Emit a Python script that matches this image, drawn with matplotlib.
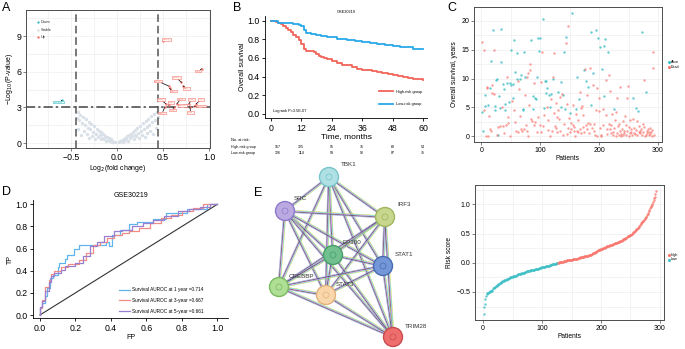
import matplotlib
matplotlib.use('Agg')
import matplotlib.pyplot as plt
import numpy as np
from matplotlib.patches import Circle

plt.rcParams['font.family'] = ['Liberation Sans', 'DejaVu Sans']

W, H = 685, 349
TEAL = '#3FBFC6'
SALMON = '#F8766D'

# ---------------- A: volcano ----------------
gray_x = [-0.02, -0.04, -0.05, -0.06, -0.07, -0.08, -0.09, -0.10, -0.11, -0.12, -0.13, -0.14,
          -0.15, -0.16, -0.17, -0.18, -0.19, -0.20, -0.21, -0.22, -0.23, -0.24, -0.25, -0.26,
          -0.27, -0.28, -0.29, -0.30, -0.31, -0.32, -0.33, -0.34, -0.35, -0.36, -0.37, -0.38,
          -0.39, -0.40, -0.41, -0.42, -0.43, -0.44,
          0.02, 0.03, 0.05, 0.06, 0.07, 0.08, 0.09, 0.10, 0.11, 0.12, 0.13, 0.14, 0.15, 0.16,
          0.17, 0.18, 0.19, 0.20, 0.21, 0.22, 0.23, 0.24, 0.25, 0.26, 0.27, 0.28, 0.29, 0.30,
          0.31, 0.32, 0.33, 0.34, 0.35, 0.36, 0.37, 0.38, 0.39, 0.40, 0.41, 0.42, 0.43, 0.44]
gray_y = [0.05, 0.12, 0.20, 0.10, 0.30, 0.18, 0.40, 0.25, 0.50, 0.15, 0.60, 0.35,
          0.75, 0.45, 0.90, 0.30, 0.65, 1.00, 0.50, 1.20, 0.80, 0.35, 1.40, 0.95,
          0.60, 1.60, 1.15, 0.45, 1.80, 1.30, 0.80, 2.00, 1.50, 1.00, 2.20, 1.70,
          0.70, 2.40, 1.90, 1.20, 2.60, 2.10,
          0.08, 0.15, 0.25, 0.12, 0.35, 0.20, 0.45, 0.30, 0.55, 0.20, 0.70, 0.40, 0.80, 0.55,
          0.95, 0.35, 0.70, 1.10, 0.60, 1.25, 0.85, 0.40, 1.45, 1.00, 0.65, 1.65, 1.20, 0.50,
          1.85, 1.35, 0.85, 2.05, 1.55, 1.05, 2.25, 1.75, 0.75, 2.45, 1.95, 1.25, 2.65, 2.20]
up_x = [0.50, 0.92, 0.57, 0.72, 0.56, 0.70, 0.53, 0.56, 0.65, 0.78, 0.86, 0.75, 0.62, 0.52, 0.79, 0.84]
up_y = [8.6, 6.25, 4.6, 4.8, 4.8, 5.1, 3.3, 3.2, 3.3, 3.3, 3.3, 3.2, 3.05, 3.05, 3.05, 3.1]
up_lab_x = [0.537, 0.877, 0.609, 0.754, 0.442, 0.645, 0.475, 0.584, 0.692, 0.812, 0.913, 0.711, 0.60, 0.49, 0.80, 0.913]
up_lab_y = [8.71, 6.05, 4.37, 4.57, 5.21, 5.49, 3.67, 3.42, 3.70, 3.67, 3.67, 3.17, 2.77, 2.52, 2.58, 3.11]
up_names = ['STAT1', 'IRF3', 'TBK1', 'SRC', 'EP300', 'STAT3', 'ISG15', 'MX1', 'OAS1', 'IFIT1',
            'IFI6', 'RSAD2', 'IFIT3', 'OASL', 'IFI44', 'TRIM28']
down_x, down_y = [-0.60], [3.6]
down_lab = (-0.64, 3.45, 'CREBBP')

# ---------------- B: Kaplan-Meier ----------------
hi_t = [0, 2, 3, 4, 5, 6, 7, 8, 9, 10, 11, 12, 13, 14, 16, 17, 18, 19, 20, 21, 22, 24, 26, 28, 30,
        32, 34, 36, 40, 42, 44, 46, 48, 50, 52, 54, 56, 58, 60]
hi_s = [1.0, 0.99, 0.97, 0.96, 0.94, 0.92, 0.90, 0.88, 0.85, 0.82, 0.79, 0.75, 0.70, 0.68, 0.67,
        0.66, 0.64, 0.62, 0.61, 0.60, 0.59, 0.57, 0.55, 0.53, 0.52, 0.50, 0.48, 0.47, 0.46, 0.45,
        0.44, 0.43, 0.42, 0.41, 0.40, 0.39, 0.38, 0.37, 0.36]
lo_t = [0, 3, 5, 9, 11, 12, 13, 14, 16, 18, 20, 22, 24, 26, 28, 30, 33, 36, 39, 42, 45, 48, 51, 54, 56, 60]
lo_s = [1.0, 0.98, 0.97, 0.96, 0.95, 0.94, 0.90, 0.87, 0.86, 0.85, 0.84, 0.83, 0.82, 0.80, 0.80,
        0.79, 0.78, 0.77, 0.76, 0.75, 0.74, 0.73, 0.72, 0.72, 0.70, 0.70]
risk_times = [0, 12, 24, 36, 48, 60]
risk_high = [167, 125, 95, 76, 60, 54]
risk_low = [126, 114, 99, 92, 87, 75]

# ---------------- C: survival status ----------------
c_years = [16.3, 4.2, 0.9, 4.6, 15.0, 7.2, 5.2, 0.0, 8.5, 8.3,
           0.1, 5.5, 3.5, 8.4, 1.2, 13.0, 1.0, 8.9, 7.5, 18.4,
           7.4, 15.0, 4.6, 5.3, 9.7, 10.0, 0.3, 1.6, 0.2, 7.0,
           4.9, 1.8, 12.9, 18.6, 5.0, 1.8, 9.1, 8.2, 0.5, 5.6,
           4.5, 2.0, 10.3, 9.2, 2.3, 3.3, 6.0, 9.2, 0.0, 8.8,
           15.0, 6.2, 6.7, 9.0, 16.6, 4.6, 11.2, 2.5, 1.0, 14.4,
           10.0, 9.5, 0.7, 8.2, 9.9, 3.6, 1.3, 10.6, 1.0, 4.8,
           4.6, 1.2, 14.6, 7.2, 10.2, 2.0, 10.3, 0.9, 11.0, 0.0,
           5.4, 12.5, 11.4, 16.7, 3.0, 2.7, 4.8, 7.0, 9.3, 1.9,
           2.4, 6.7, 6.5, 0.8, 10.2, 3.4, 17.1, 14.8, 17.0, 2.0,
           0.8, 9.4, 14.6, 20.3, 1.8, 4.9, 3.7, 9.6, 7.5, 9.6,
           8.4, 5.0, 1.1, 2.9, 7.1, 5.1, 0.1, 7.4, 6.4, 1.0,
           10.3, 9.9, 14.4, 4.0, 1.8, 1.4, 5.8, 3.4, 0.7, 7.6,
           4.6, 3.0, 6.8, 1.0, 5.0, 9.4, 7.3, 0.3, 7.1, 2.1,
           14.6, 4.8, 17.2, 16.2, 5.6, 0.4, 1.5, 19.1, 3.2, 0.7,
           4.0, 1.2, 2.3, 21.3, 1.9, 5.5, 1.6, 0.9, 0.1, 3.9,
           4.7, 1.0, 10.2, 0.7, 2.8, 6.5, 1.2, 7.6, 4.9, 0.5,
           5.2, 1.6, 3.7, 11.5, 0.8, 11.7, 9.6, 2.0, 1.3, 7.2,
           2.3, 8.6, 0.5, 11.8, 2.1, 5.5, 18.1, 1.4, 8.8, 10.9,
           0.9, 2.2, 0.3, 4.6, 18.4, 8.4, 0.0, 17.0, 4.3, 6.7,
           1.5, 15.4, 0.3, 0.0, 11.6, 4.7, 2.0, 6.9, 15.7, 16.9,
           3.7, 9.8, 0.4, 1.2, 14.6, 2.1, 10.6, 7.8, 1.3, 0.5,
           2.0, 3.9, 0.8, 0.2, 4.7, 1.5, 2.8, 0.0, 4.2, 0.6,
           6.6, 1.8, 0.3, 2.2, 0.9, 8.6, 0.4, 0.1, 1.3, 0.2,
           2.6, 1.0, 0.6, 3.5, 0.3, 1.9, 0.9, 6.7, 8.7, 1.6,
           0.1, 0.5, 2.9, 0.8, 1.2, 0.3, 3.0, 6.7, 0.6, 1.4,
           0.4, 1.1, 4.9, 2.6, 0.2, 4.4, 1.8, 0.7, 0.9, 0.5,
           1.2, 0.2, 18.0, 2.2, 0.8, 9.7, 1.6, 0.1, 7.6, 0.3,
           1.0, 0.6, 1.3, 0.2, 0.7, 1.5, 0.4, 0.8, 0.1, 1.1,
           14.6, 11.9, 0.2]
c_status = list('DAADDAADDD' 'DADADADDDA' 'DDAAAADDAA' 'ADAADDAADA' 'ADDADDAADA'
                'ADAAADADDA' 'ADDDADDADA' 'ADADADDDDD' 'DDDADDAADD' 'DAADADAAAD'
                'DDDADADAAA' 'ADDDAADADD' 'DADDDDDDDA' 'DDDDAADDAD' 'AAADDDDDDD'
                'ADDADDDDDD' 'ADADDADDDD' 'DDDADDADDD' 'DADDDAADDA' 'DDDDADDADD'
                'DADDADDAAA' 'DDDDADDDDD' 'DDDDADDDDD' 'DDDDDDDDDD' 'DDDDDDDDDD'
                'DDDDDDDADD' 'DDADDADDDD' 'DDADDDDDAD' 'DDDDDDDDDD' 'DDD')

# ---------------- D: ROC ----------------
roc1_fp = [0, 0.01, 0.028, 0.038, 0.056, 0.075, 0.10, 0.11, 0.14, 0.15, 0.19, 0.22, 0.27, 0.37,
           0.39, 0.405, 0.45, 0.50, 0.545, 0.64, 0.71, 0.83, 0.94, 1.0]
roc1_tp = [0, 0.075, 0.105, 0.17, 0.24, 0.33, 0.36, 0.43, 0.47, 0.51, 0.54, 0.60, 0.63, 0.63,
           0.66, 0.62, 0.72, 0.77, 0.82, 0.84, 0.87, 0.92, 0.96, 1.0]
roc3_fp = [0, 0.01, 0.03, 0.05, 0.06, 0.08, 0.12, 0.16, 0.22, 0.26, 0.30, 0.34, 0.38, 0.42, 0.46,
           0.50, 0.56, 0.62, 0.68, 0.74, 0.80, 0.86, 0.92, 1.0]
roc3_tp = [0, 0.06, 0.14, 0.25, 0.32, 0.37, 0.40, 0.43, 0.46, 0.50, 0.56, 0.63, 0.66, 0.70, 0.72,
           0.74, 0.76, 0.79, 0.83, 0.88, 0.90, 0.94, 0.97, 1.0]
roc5_fp = [0, 0.01, 0.03, 0.05, 0.06, 0.08, 0.12, 0.14, 0.20, 0.24, 0.28, 0.32, 0.36, 0.42, 0.46,
           0.52, 0.58, 0.64, 0.70, 0.78, 0.84, 0.90, 0.96, 1.0]
roc5_tp = [0, 0.07, 0.13, 0.22, 0.30, 0.35, 0.38, 0.41, 0.44, 0.47, 0.53, 0.62, 0.66, 0.71, 0.76,
           0.77, 0.80, 0.83, 0.86, 0.89, 0.94, 0.96, 0.98, 1.0]
roc_labels = ['Survival AUROC at 1 year =0.714', 'Survival AUROC at 3-year =0.667',
              'Survival AUROC at 5-year =0.661']
roc_colors = ['#62B4EC', '#F08C84', '#9A7FD1']

# ---------------- E: network ----------------
node_names = ['TBK1', 'SRC', 'IRF3', 'EP300', 'STAT1', 'CREBBP', 'STAT3', 'TRIM28']
node_x = [329, 285, 385, 333, 383, 279, 326, 393]
node_y = [177, 211, 217, 255, 266, 287, 295, 337]
node_face = ['#AEE0E4', '#BBAAE2', '#C8D68E', '#72C08F', '#7497D8', '#AEDF94', '#F9D7AA', '#EE6E6E']
node_edge = ['#78C4CB', '#8E79CB', '#A0B65E', '#44A067', '#476AB2', '#7ABB60', '#E1B27F', '#C94B4B']
label_dx = [12, 9, 12, 10, 12, 10, 10, 12]
label_dy = [-12, -12, -12, -12, -11, -10, -10, -11]
edge_colors = ['#C8DE4C', '#55CFE0', '#D66AD2', '#2E2E2E', '#A0A0E0']

# ---------------- F: risk score ----------------
risk_low_vals = [-0.88, -0.75, -0.70, -0.62, -0.57, -0.53, -0.52, -0.51, -0.51, -0.50,
                 -0.50, -0.49, -0.49, -0.48, -0.48, -0.46, -0.44, -0.43, -0.43, -0.42,
                 -0.41, -0.40, -0.39, -0.38, -0.38, -0.37, -0.36, -0.35, -0.34, -0.34,
                 -0.33, -0.33, -0.32, -0.32, -0.31, -0.30, -0.30, -0.29, -0.29, -0.28,
                 -0.28, -0.27, -0.27, -0.26, -0.26, -0.25, -0.25, -0.25, -0.24, -0.24,
                 -0.23, -0.23, -0.23, -0.22, -0.22, -0.22, -0.21, -0.21, -0.20, -0.20,
                 -0.20, -0.19, -0.19, -0.19, -0.18, -0.18, -0.18, -0.17, -0.17, -0.17,
                 -0.16, -0.16, -0.16, -0.15, -0.15, -0.15, -0.14, -0.14, -0.14, -0.13,
                 -0.13, -0.13, -0.13, -0.12, -0.12, -0.12, -0.12, -0.11, -0.11, -0.11,
                 -0.10, -0.10, -0.10, -0.10, -0.09, -0.09, -0.09, -0.09, -0.08, -0.08,
                 -0.08, -0.07, -0.07, -0.07, -0.07, -0.06, -0.06, -0.06, -0.06, -0.05,
                 -0.05, -0.05, -0.04, -0.04, -0.04, -0.04, -0.03, -0.03, -0.03, -0.03,
                 -0.02, -0.02, -0.02, -0.01, -0.01, -0.01]
risk_high_vals = [0.00, 0.00, 0.01, 0.01, 0.01, 0.01, 0.02, 0.02, 0.02, 0.02,
                  0.03, 0.03, 0.03, 0.03, 0.03, 0.04, 0.04, 0.04, 0.04, 0.04,
                  0.05, 0.05, 0.05, 0.05, 0.05, 0.06, 0.06, 0.06, 0.06, 0.06,
                  0.07, 0.07, 0.07, 0.07, 0.08, 0.08, 0.08, 0.08, 0.09, 0.09,
                  0.09, 0.10, 0.10, 0.10, 0.10, 0.11, 0.11, 0.11, 0.11, 0.12,
                  0.12, 0.12, 0.13, 0.13, 0.14, 0.14, 0.14, 0.15, 0.15, 0.16,
                  0.16, 0.17, 0.17, 0.18, 0.19, 0.19, 0.20, 0.20, 0.21, 0.21,
                  0.22, 0.22, 0.23, 0.23, 0.24, 0.24, 0.25, 0.25, 0.26, 0.26,
                  0.27, 0.27, 0.27, 0.28, 0.28, 0.29, 0.29, 0.29, 0.30, 0.30,
                  0.30, 0.31, 0.31, 0.32, 0.32, 0.32, 0.33, 0.33, 0.33, 0.34,
                  0.34, 0.35, 0.35, 0.36, 0.36, 0.37, 0.37, 0.38, 0.38, 0.39,
                  0.39, 0.40, 0.40, 0.41, 0.42, 0.43, 0.43, 0.44, 0.45, 0.45,
                  0.46, 0.46, 0.47, 0.47, 0.48, 0.49, 0.50, 0.51, 0.52, 0.53,
                  0.54, 0.55, 0.56, 0.57, 0.58, 0.59, 0.60, 0.61, 0.63, 0.65,
                  0.66, 0.68, 0.69, 0.70, 0.71, 0.72, 0.73, 0.75, 0.76, 0.78,
                  0.79, 0.81, 0.83, 0.85, 0.88, 0.90, 0.93, 0.95, 0.97, 0.99,
                  1.01, 1.04, 1.07, 1.10, 1.13, 1.17, 1.23]


def box(l, t, r, b):
    return [l / W, 1 - b / H, (r - l) / W, (b - t) / H]


def ftext(x, y, s, **kw):
    fig.text(x / W, 1 - y / H, s, **kw)


def ggframe(ax, fs=5):
    for sp in ax.spines.values():
        sp.set_color('#4D4D4D')
        sp.set_linewidth(0.7)
    ax.grid(True, which='both', color='#EBEBEB', lw=0.4)
    ax.set_axisbelow(True)
    ax.tick_params(which='major', length=2, width=0.5, color='#4D4D4D', labelsize=fs, pad=1.5)
    ax.tick_params(which='minor', length=0)


fig = plt.figure(figsize=(6.85, 3.49), dpi=100)

# network goes underneath everything, in pixel coordinates
axE = fig.add_axes([0, 0, 1, 1])
axE.set_xlim(0, W)
axE.set_ylim(H, 0)
axE.axis('off')
n = len(node_names)
for i in range(n):
    for j in range(i + 1, n):
        x0, y0, x1, y1 = node_x[i], node_y[i], node_x[j], node_y[j]
        d = np.hypot(x1 - x0, y1 - y0)
        px, py = -(y1 - y0) / d, (x1 - x0) / d
        for k, c in enumerate(edge_colors):
            o = (k - 2) * 0.6
            axE.plot([x0 + px * o, x1 + px * o], [y0 + py * o, y1 + py * o], color=c, lw=0.4,
                     solid_capstyle='butt')
for i in range(n):
    axE.add_patch(Circle((node_x[i], node_y[i]), 9.5, fc=node_face[i], ec=node_edge[i], lw=1.0, zorder=5))
    axE.add_patch(Circle((node_x[i], node_y[i]), 3, fc='none', ec=node_edge[i], lw=0.5, zorder=6))
    axE.text(node_x[i] + label_dx[i], node_y[i] + label_dy[i], node_names[i], fontsize=4.5,
             color='#333333', ha='left', va='center', zorder=7)

# ---- A ----
axA = fig.add_axes(box(26, 10, 210, 148))
ggframe(axA, fs=6.3)
axA.scatter(gray_x, gray_y, s=6, color='#D9E0E8', lw=0)
axA.scatter(up_x, up_y, s=3, color=SALMON, lw=0, zorder=3)
axA.scatter(down_x, down_y, s=3, color=TEAL, lw=0, zorder=3)
for i in range(len(up_x)):
    axA.annotate(up_names[i], xy=(up_x[i], up_y[i]), xytext=(up_lab_x[i], up_lab_y[i]),
                 fontsize=1.6, color=SALMON, ha='center', va='center',
                 bbox=dict(boxstyle='square,pad=0.35', fc='#FFF4F2', ec=SALMON, lw=0.4),
                 arrowprops=dict(arrowstyle='-', color='black', lw=0.5, shrinkA=0, shrinkB=0), zorder=4)
axA.annotate(down_lab[2], xy=(down_x[0], down_y[0]), xytext=(down_lab[0], down_lab[1]),
             fontsize=1.6, color=TEAL, ha='center', va='center',
             bbox=dict(boxstyle='square,pad=0.35', fc='#F0FAFB', ec=TEAL, lw=0.4),
             arrowprops=dict(arrowstyle='-', color='black', lw=0.5, shrinkA=0, shrinkB=0), zorder=4)
for v in (-0.45, 0.45):
    axA.axvline(v, color='#555555', lw=1.1, ls=(0, (5, 2.5)))
axA.axhline(3, color='#444444', lw=1.1, ls=(0, (6, 2, 1.5, 2)))
axA.set_xlim(-0.99, 1.01)
axA.set_ylim(-0.42, 11.2)
axA.set_xticks([-0.5, 0.0, 0.5, 1.0])
axA.set_xticks([-0.75, -0.25, 0.25, 0.75], minor=True)
axA.set_yticks([0, 3, 6, 9])
axA.set_yticks([1.5, 4.5, 7.5, 10.5], minor=True)
axA.set_xlabel('Log$_2$(fold change)', fontsize=5, labelpad=1)
axA.set_ylabel('\u2212Log$_{10}$(P-value)', fontsize=5, labelpad=1)
for k, (lab, col) in enumerate([('Down', TEAL), ('Stable', '#D5DCE4'), ('Up', SALMON)]):
    axA.scatter([-0.86], [10.2 - k * 0.65], s=3, color=col, lw=0)
    axA.text(-0.83, 10.2 - k * 0.65, lab, fontsize=2.8, va='center', color='#333333')

# ---- B ----
axB = fig.add_axes(box(265, 16, 427, 118))
axB.step(hi_t, hi_s, where='post', color='#F0645A', lw=1.3, label='High-risk group')
axB.step(lo_t, lo_s, where='post', color='#2AA8E8', lw=1.3, label='Low-risk group')
axB.set_xlim(-2.2, 61.5)
axB.set_ylim(-0.043, 1.05)
axB.set_xticks(risk_times)
axB.set_yticks([0.0, 0.2, 0.4, 0.6, 0.8, 1.0])
axB.yaxis.set_major_formatter(matplotlib.ticker.FormatStrFormatter('%.1f'))
for s in ('top', 'right'):
    axB.spines[s].set_visible(False)
for s in ('left', 'bottom'):
    axB.spines[s].set_linewidth(0.6)
axB.tick_params(length=2.5, width=0.6, labelsize=6.3, pad=1.5)
axB.set_ylabel('Overall survival', fontsize=5, labelpad=1)
axB.set_xlabel('Time, months', fontsize=6, labelpad=0.5)
axB.set_title('GSE30219', fontsize=2.8, pad=2)
axB.legend(loc='lower right', fontsize=2.8, frameon=False, handlelength=3.5, labelspacing=2.2,
           bbox_to_anchor=(0.99, 0.08))
axB.text(1, 0.03, 'Logrank P=3.5E-07', fontsize=2.8, va='center')
ftext(231, 140, 'No. at risk:', fontsize=2.8, va='center')
ftext(231, 147, 'High-risk group', fontsize=2.6, va='center')
ftext(231, 153, 'Low-risk group', fontsize=2.6, va='center')
for k, t in enumerate(risk_times):
    xp = 270.7 + t * 2.543 + (7 if k == 0 else 0)
    ftext(xp, 147, str(risk_high[k]), fontsize=2.6, va='center', ha='center')
    ftext(xp, 153, str(risk_low[k]), fontsize=2.6, va='center', ha='center')

# ---- C ----
axC = fig.add_axes(box(474, 7, 662, 142))
ggframe(axC, fs=5)
pat = np.arange(1, len(c_years) + 1)
yrs = np.array(c_years)
st = np.array(c_status)
axC.scatter(pat[st == 'A'], yrs[st == 'A'], s=3, color=TEAL, alpha=0.8, lw=0, zorder=3)
axC.scatter(pat[st == 'D'], yrs[st == 'D'], s=3, color=SALMON, alpha=0.7, lw=0, zorder=3)
axC.set_xlim(-12.4, 306.8)
axC.set_ylim(-0.99, 22.4)
axC.set_xticks([0, 100, 200, 300])
axC.set_xticks([50, 150, 250], minor=True)
axC.set_yticks([0, 5, 10, 15, 20])
axC.set_yticks([2.5, 7.5, 12.5, 17.5], minor=True)
axC.set_xlabel('Patients', fontsize=4.8, labelpad=1)
axC.set_ylabel('Overall survival, years', fontsize=4.8, labelpad=2)
for k, (lab, col) in enumerate([('Alive', TEAL), ('Dead', SALMON)]):
    fig.add_artist(plt.Line2D([668.5 / W], [1 - (62 + 4.5 * k) / H], marker='o', ms=1.2, color=col, lw=0))
    ftext(671, 62 + 4.5 * k, lab, fontsize=2.6, va='center')

# ---- D ----
axD = fig.add_axes(box(33, 200, 228, 318))
axD.plot([0, 1], [0, 1], color='#333333', lw=0.8)
for fp, tp, lab, col in zip([roc1_fp, roc3_fp, roc5_fp], [roc1_tp, roc3_tp, roc5_tp], roc_labels, roc_colors):
    axD.plot(fp, tp, color=col, lw=0.9, drawstyle='steps-pre', label=lab)
axD.set_xlim(-0.039, 1.06)
axD.set_ylim(-0.027, 1.039)
axD.set_xticks(np.arange(0, 1.01, 0.2))
axD.set_yticks(np.arange(0, 1.01, 0.2))
axD.xaxis.set_major_formatter(matplotlib.ticker.FormatStrFormatter('%.1f'))
axD.yaxis.set_major_formatter(matplotlib.ticker.FormatStrFormatter('%.1f'))
for s in ('top', 'right'):
    axD.spines[s].set_visible(False)
for s in ('left', 'bottom'):
    axD.spines[s].set_linewidth(0.6)
axD.tick_params(length=2.5, width=0.6, labelsize=6.3, pad=1.5)
axD.set_xlabel('FP', fontsize=5, labelpad=1)
axD.set_ylabel('TP', fontsize=5, labelpad=1)
axD.set_title('GSE30219', fontsize=5, pad=2)
axD.legend(loc='lower left', fontsize=3.4, frameon=False, handlelength=2.2, handletextpad=0.6,
           labelspacing=1.2, bbox_to_anchor=(0.42, 0.0))

# ---- F ----
axF = fig.add_axes(box(475, 185, 664, 320))
ggframe(axF, fs=5)
nl = len(risk_low_vals)
axF.scatter(np.arange(1, nl + 1), risk_low_vals, s=3, color=TEAL, alpha=0.8, lw=0, zorder=3)
axF.scatter(np.arange(nl + 1, nl + len(risk_high_vals) + 1), risk_high_vals, s=3, color=SALMON,
            alpha=0.8, lw=0, zorder=3)
axF.set_xlim(-13.6, 306.8)
axF.set_ylim(-0.98, 1.33)
axF.set_xticks([0, 100, 200, 300])
axF.set_xticks([50, 150, 250], minor=True)
axF.set_yticks([-0.5, 0.0, 0.5, 1.0])
axF.set_yticks([-0.75, -0.25, 0.25, 0.75, 1.25], minor=True)
axF.set_xlabel('Patients', fontsize=4.8, labelpad=1)
axF.set_ylabel('Risk score', fontsize=4.8, labelpad=2)
for k, (lab, col) in enumerate([('High', SALMON), ('Low', TEAL)]):
    fig.add_artist(plt.Line2D([668.5 / W], [1 - (255 + 4.5 * k) / H], marker='o', ms=1.2, color=col, lw=0))
    ftext(671, 255 + 4.5 * k, lab, fontsize=2.6, va='center')

# panel letters
for lab, x, y in [('A', 2, 8), ('B', 233, 8), ('C', 447, 8), ('D', 2, 192), ('E', 254, 193)]:
    ftext(x, y, lab, fontsize=9, va='center', ha='left')

fig.savefig('out.png', dpi=100)
